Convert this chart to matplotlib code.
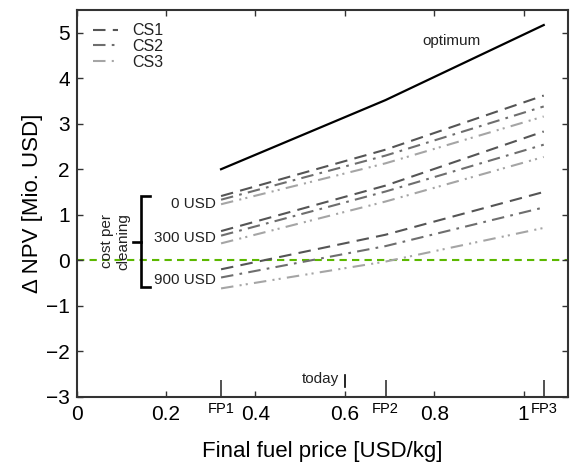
import matplotlib
matplotlib.use("Agg")
import matplotlib.pyplot as plt

plt.rcParams['font.family'] = ['Liberation Sans', 'DejaVu Sans']

# ---- data ----
fuel_prices = [0.323, 0.691, 1.045]          # FP1, FP2, FP3
fp_labels = ["FP1", "FP2", "FP3"]
optimum = [2.00, 3.52, 5.17]

cost_levels = ["0 USD", "300 USD", "900 USD"]
cs1 = {"0 USD": [1.41, 2.43, 3.62], "300 USD": [0.64, 1.64, 2.83], "900 USD": [-0.20, 0.56, 1.50]}
cs2 = {"0 USD": [1.33, 2.30, 3.38], "300 USD": [0.54, 1.51, 2.54], "900 USD": [-0.38, 0.31, 1.16]}
cs3 = {"0 USD": [1.23, 2.13, 3.16], "300 USD": [0.37, 1.29, 2.27], "900 USD": [-0.62, -0.03, 0.71]}
label_y = {"0 USD": 1.24, "300 USD": 0.48, "900 USD": -0.44}
today_price = 0.6

x_ticks = [0, 0.2, 0.4, 0.6, 0.8, 1.0]
x_ticklabels = ["0", "0.2", "0.4", "0.6", "0.8", "1"]
y_ticks = [-3, -2, -1, 0, 1, 2, 3, 4, 5]

# ---- figure ----
fig = plt.figure(figsize=(5.71, 4.68), dpi=100)
ax = fig.add_axes([0.1343, 0.1524, 0.9953 - 0.1343, 0.9786 - 0.1524])

styles = {
    "CS1": dict(color="#555555", dashes=(6, 3.5)),
    "CS2": dict(color="#6e6e6e", dashes=(6, 3, 1.3, 3)),
    "CS3": dict(color="#a5a5a5", dashes=(6, 3, 1, 2, 1, 3)),
}
series = {"CS1": cs1, "CS2": cs2, "CS3": cs3}

ax.axhline(0, color="#5cb800", lw=1.5, dashes=(3.5, 2.5), zorder=1)

for name in ["CS1", "CS2", "CS3"]:
    for i, lvl in enumerate(cost_levels):
        ax.plot(fuel_prices, series[name][lvl], lw=1.5,
                label=name if i == 0 else None, **styles[name])

ax.plot(fuel_prices, optimum, color="black", lw=1.6)
ax.text(0.838, 4.82, "optimum", fontsize=11, ha="center", va="center", color="#222222")

for lvl in cost_levels:
    ax.text(0.3105, label_y[lvl], lvl, fontsize=11, ha="right", va="center", color="#222222")

# bracket
bx, by_top, by_bot, by_mid = 0.145, 1.41, -0.585, 0.41
ax.plot([0.164, bx, bx, 0.164], [by_top, by_top, by_bot, by_bot], color="black", lw=1.9,
        solid_joinstyle="miter", clip_on=False)
ax.plot([0.126, bx], [by_mid, by_mid], color="black", lw=1.9)
ax.text(0.0856, 0.42, "cost per\ncleaning", rotation=90, fontsize=11, ha="center",
        va="center", linespacing=1.2, color="#222222", multialignment="center")

# today marker
ax.plot([today_price, today_price], [-2.52, -2.78], color="black", lw=1.2)
ax.text(0.588, -2.62, "today", fontsize=11, ha="right", va="center", color="#222222")

ax.set_xlim(0, 1.1)
ax.set_ylim(-3, 5.5)
ax.set_xticks(x_ticks)
ax.set_xticklabels(x_ticklabels)
ax.set_yticks(y_ticks)
ax.set_yticklabels([str(v).replace("-", "\u2212") for v in y_ticks])
ax.set_xticks(fuel_prices, minor=True)
ax.set_xticklabels(fp_labels, minor=True)

ax.tick_params(which="major", direction="in", length=4, width=1, top=True, right=True,
               labelsize=15, color="#333333", pad=5)
ax.tick_params(axis="x", which="major", pad=6)
ax.tick_params(axis="x", which="minor", direction="in", length=12, width=1.2, top=False,
               bottom=True, labelsize=10.5, pad=3.5, color="#333333")
ax.tick_params(axis="y", which="minor", left=False, right=False)

for s in ax.spines.values():
    s.set_color("#333333")
    s.set_linewidth(1.5)

ax.set_xlabel("Final fuel price [USD/kg]", fontsize=16, labelpad=12)
ax.set_ylabel("\u0394 NPV [Mio. USD]", fontsize=16, labelpad=2)

leg = ax.legend(loc="upper left", bbox_to_anchor=(0.01, 0.995), frameon=False, fontsize=11.5,
                handlelength=1.6, handletextpad=0.85, labelspacing=0.05, borderaxespad=0.3)
for t in leg.get_texts():
    t.set_color("#222222")

fig.savefig("out.png", dpi=100)
